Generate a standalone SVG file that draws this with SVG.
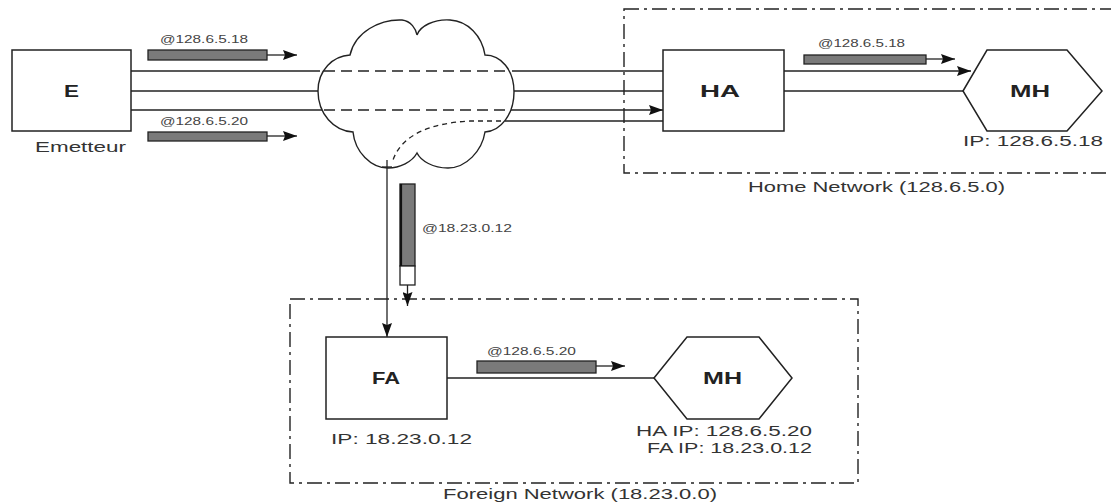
<svg xmlns="http://www.w3.org/2000/svg" width="1111" height="503" viewBox="0 0 1111 503">
  <defs>
    <marker id="arrow" viewBox="0 0 14 10" refX="14" refY="5" markerWidth="14" markerHeight="10" markerUnits="userSpaceOnUse" orient="auto">
      <path d="M0,0 L14,5 L0,10 L2,5 Z" fill="#111"/>
    </marker>
    <style>
      .line { fill: none; stroke: #222; stroke-width: 1.3; }
      .dash { fill: none; stroke: #222; stroke-width: 1.3; stroke-dasharray: 11 6; }
      .fine-dash { fill: none; stroke: #222; stroke-width: 1.3; stroke-dasharray: 5 4; }
      .box { fill: #fff; stroke: #222; stroke-width: 1.5; }
      .zone { fill: none; stroke: #222; stroke-width: 1.4; stroke-dasharray: 15 5 3 5; }
      .packet { fill: #7a7a7a; stroke: #222; stroke-width: 1.3; }
      .lbl { font-family: "Liberation Sans", Arial, sans-serif; font-size: 14px; fill: #333; }
      .small { font-family: "Liberation Sans", Arial, sans-serif; font-size: 11px; fill: #444; }
      .title { font-family: "Liberation Sans", Arial, sans-serif; font-size: 17px; font-weight: bold; fill: #222; }
    </style>
  </defs>

  <!-- network zones -->
  <g id="home-network">
    <rect class="zone" x="624" y="9" width="495" height="164"/>
    <text class="lbl" x="748" y="192" textLength="257" lengthAdjust="spacingAndGlyphs">Home Network (128.6.5.0)</text>
  </g>
  <g id="foreign-network">
    <rect class="zone" x="290" y="299" width="568" height="184"/>
    <text class="lbl" x="443" y="499" textLength="274" lengthAdjust="spacingAndGlyphs">Foreign Network (18.23.0.0)</text>
  </g>

  <!-- connectors -->
  <g id="connectors">
    <!-- upper path: E to MH through the cloud and HA -->
    <path class="line" d="M131,71 H320"/>
    <path class="dash" d="M324,71 H510"/>
    <path class="line" d="M512,71 H663"/>
    <path class="dash" d="M663,71 H784"/>
    <path class="line" d="M784,71 H971" marker-end="url(#arrow)"/>
    <!-- middle path -->
    <path class="line" d="M131,91 H318"/>
    <path class="line" d="M514,91 H663"/>
    <path class="line" d="M784,91 H963"/>
    <!-- lower path: E to HA -->
    <path class="line" d="M131,110 H322"/>
    <path class="dash" d="M324,110 H510"/>
    <path class="line" d="M511,110 H663" marker-end="url(#arrow)"/>
    <!-- tunnel back from HA towards FA -->
    <path class="line" d="M510,121 H663"/>
    <path class="fine-dash" d="M510,121 H470 C432,123 402,134 393,160"/>
    <path class="line" d="M387,160 V337" marker-end="url(#arrow)"/>
    <path class="line" d="M382,167 H392"/>
    <!-- FA to MH -->
    <path class="line" d="M447,378 H654"/>
  </g>

  <!-- internet cloud -->
  <g id="cloud">
    <path fill="none" stroke="#222" stroke-width="1.4" d="M350,55 C355,32 380,19 402,20 C411,21 416,29 417,35 C420,26 434,19 450,20 C468,21 482,36 485,55 C501,55 514,70 514,92 C514,114 501,131 485,132 C482,151 466,168 448,168 C433,168 421,161 417,153 C412,162 400,168 388,168 C371,168 355,152 353,132 C334,131 318,114 318,91 C318,70 333,56 350,55 Z"/>
  </g>

  <!-- packets -->
  <g id="packet-e-18">
    <text class="small" x="160" y="43" textLength="88" lengthAdjust="spacingAndGlyphs">@128.6.5.18</text>
    <rect class="packet" x="148" y="50" width="119" height="10"/>
    <path class="line" d="M267,55 H297" marker-end="url(#arrow)"/>
  </g>
  <g id="packet-e-20">
    <text class="small" x="160" y="125" textLength="88" lengthAdjust="spacingAndGlyphs">@128.6.5.20</text>
    <rect class="packet" x="148" y="132" width="119" height="9"/>
    <path class="line" d="M267,136 H297" marker-end="url(#arrow)"/>
  </g>
  <g id="packet-ha-18">
    <text class="small" x="818" y="47" textLength="87" lengthAdjust="spacingAndGlyphs">@128.6.5.18</text>
    <rect class="packet" x="804" y="55" width="122" height="9"/>
    <path class="line" d="M926,59 H955" marker-end="url(#arrow)"/>
  </g>
  <g id="packet-tunnel">
    <rect x="400" y="184" width="15" height="82" fill="#7a7a7a" stroke="#222" stroke-width="1.3"/>
    <rect x="400" y="266" width="15" height="19" fill="#fff" stroke="#222" stroke-width="1.3"/>
    <path d="M401,184 V266" stroke="#111" stroke-width="2.2"/>
    <path class="line" d="M407.5,285 V306" marker-end="url(#arrow)"/>
    <text class="small" x="422" y="232" textLength="90" lengthAdjust="spacingAndGlyphs">@18.23.0.12</text>
  </g>
  <g id="packet-fa-20">
    <text class="small" x="487" y="355" textLength="89" lengthAdjust="spacingAndGlyphs">@128.6.5.20</text>
    <rect class="packet" x="477" y="361" width="119" height="12"/>
    <path class="line" d="M596,366 H625" marker-end="url(#arrow)"/>
  </g>

  <!-- nodes -->
  <g id="node-e">
    <rect class="box" x="12" y="50" width="119" height="81"/>
    <text class="title" x="64" y="97" textLength="15" lengthAdjust="spacingAndGlyphs">E</text>
    <text class="lbl" x="35" y="152" textLength="91" lengthAdjust="spacingAndGlyphs">Emetteur</text>
  </g>
  <g id="node-ha">
    <rect class="box" x="663" y="50" width="121" height="81"/>
    <text class="title" x="700" y="97" textLength="40" lengthAdjust="spacingAndGlyphs">HA</text>
  </g>
  <g id="node-mh-home">
    <polygon class="box" points="963,91 987,50 1067,50 1102,91 1067,131 987,131"/>
    <text class="title" x="1010" y="97" textLength="40" lengthAdjust="spacingAndGlyphs">MH</text>
    <text class="lbl" x="963" y="146" textLength="140" lengthAdjust="spacingAndGlyphs">IP: 128.6.5.18</text>
  </g>
  <g id="node-fa">
    <rect class="box" x="326" y="337" width="121" height="82"/>
    <text class="title" x="372" y="384" textLength="28" lengthAdjust="spacingAndGlyphs">FA</text>
    <text class="lbl" x="331" y="444" textLength="141" lengthAdjust="spacingAndGlyphs">IP: 18.23.0.12</text>
  </g>
  <g id="node-mh-foreign">
    <polygon class="box" points="654,378 687,337 759,337 792,378 759,419 687,419"/>
    <text class="title" x="703" y="384" textLength="39" lengthAdjust="spacingAndGlyphs">MH</text>
    <text class="lbl" x="636" y="436" textLength="176" lengthAdjust="spacingAndGlyphs">HA IP: 128.6.5.20</text>
    <text class="lbl" x="647" y="453" textLength="165" lengthAdjust="spacingAndGlyphs">FA IP: 18.23.0.12</text>
  </g>
</svg>
